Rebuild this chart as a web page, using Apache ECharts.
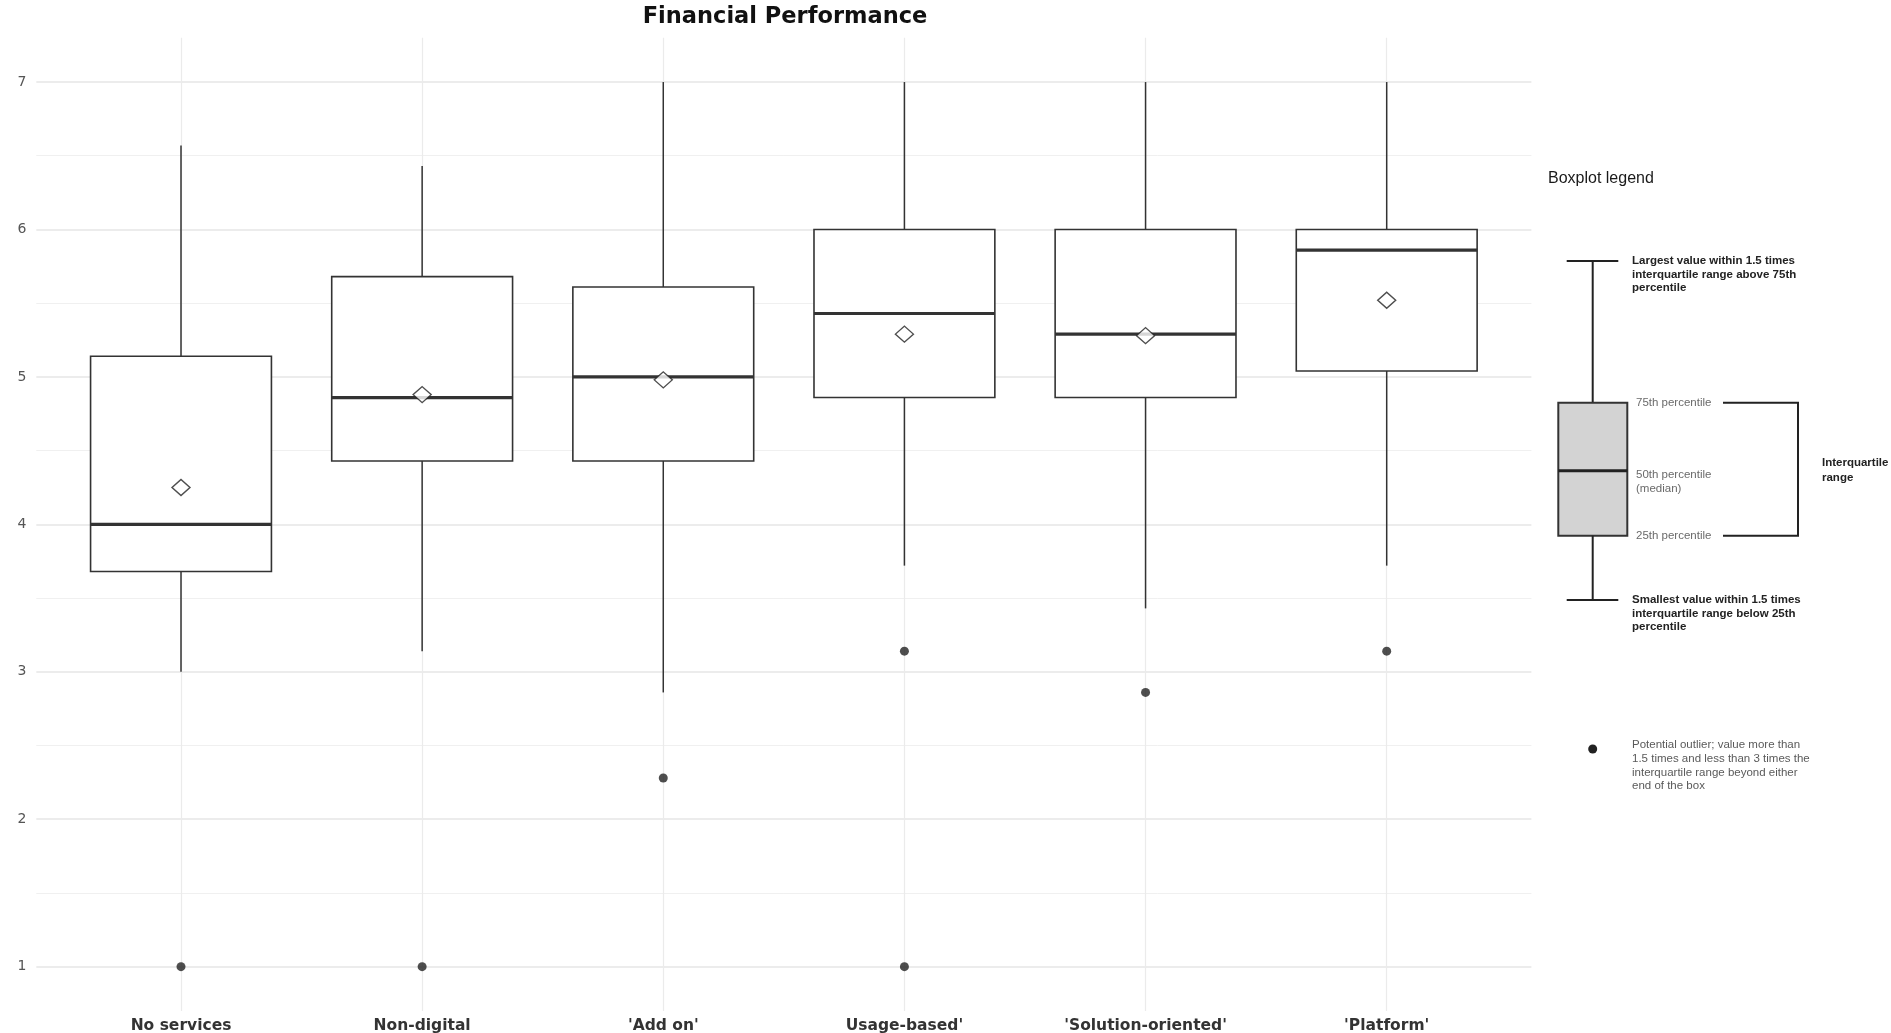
<!DOCTYPE html>
<html>
<head>
<meta charset="utf-8">
<script src="https://cdn.jsdelivr.net/npm/echarts@6/dist/echarts.min.js"></script>
<style>
  html, body { margin: 0; padding: 0; background: #ffffff; }
  #chart { width: 1891px; height: 1033px; }
</style>
</head>
<body>
<div id="chart"></div>
<script>
// ---- Data ----
const categories = ["No services", "Non-digital", "'Add on'", "Usage-based'", "'Solution-oriented'", "'Platform'"];
const lowerWhisker = [3.00, 3.14, 2.86, 3.72, 3.43, 3.72];
const q1Values     = [3.68, 4.43, 4.43, 4.86, 4.86, 5.04];
const medianValues = [4.00, 4.86, 5.00, 5.43, 5.29, 5.86];
const q3Values     = [5.14, 5.68, 5.61, 6.00, 6.00, 6.00];
const upperWhisker = [6.57, 6.43, 7.00, 7.00, 7.00, 7.00];
const meanValues   = [4.25, 4.88, 4.98, 5.29, 5.28, 5.52];
const outlierCategory = [0, 1, 2, 3, 3, 4, 5];
const outlierValues   = [1.00, 1.00, 2.28, 3.14, 1.00, 2.86, 3.14];
const yTickLabels = ["1", "2", "3", "4", "5", "6", "7"];
const titleText = "Financial Performance";

// ---- Build options ----
const boxData = categories.map((c, i) => [i, lowerWhisker[i], q1Values[i], medianValues[i], q3Values[i], upperWhisker[i]]);
const meanData = categories.map((c, i) => [i, meanValues[i]]);
const outlierData = outlierCategory.map((c, i) => [c, outlierValues[i]]);

const majorColors = [], minorColors = [];
for (let i = 0; i <= 14; i++) {
  const isEdge = (i === 0 || i === 14);
  majorColors.push(!isEdge && i % 2 === 1 ? '#e6e6e6' : 'rgba(0,0,0,0)');
  minorColors.push(!isEdge && i % 2 === 0 ? '#eeeeee' : 'rgba(0,0,0,0)');
}

const darkLine = '#333333';

function renderBox(params, api) {
  const x = api.value(0);
  const lo = api.coord([x, api.value(1)]);
  const q1 = api.coord([x, api.value(2)]);
  const md = api.coord([x, api.value(3)]);
  const q3 = api.coord([x, api.value(4)]);
  const hi = api.coord([x, api.value(5)]);
  const bw = api.size([1, 0])[0] * 0.75;
  const cx = q1[0];
  return {
    type: 'group',
    children: [
      { type: 'line', shape: { x1: cx, y1: q3[1], x2: cx, y2: hi[1] }, style: { stroke: darkLine, lineWidth: 1.5 } },
      { type: 'line', shape: { x1: cx, y1: q1[1], x2: cx, y2: lo[1] }, style: { stroke: darkLine, lineWidth: 1.5 } },
      { type: 'rect', shape: { x: cx - bw / 2, y: q3[1], width: bw, height: q1[1] - q3[1] },
        style: { fill: '#ffffff', stroke: darkLine, lineWidth: 1.6 } },
      { type: 'line', shape: { x1: cx - bw / 2, y1: md[1], x2: cx + bw / 2, y2: md[1] }, style: { stroke: darkLine, lineWidth: 3.2 } }
    ]
  };
}

function txt(x, y, text, font, fill, lh) {
  return {
    type: 'text', x: x, y: y, silent: true,
    style: { text: text, font: font, fill: fill, lineHeight: lh || undefined,
             align: 'left', textAlign: 'left', verticalAlign: 'top', textVerticalAlign: 'top' }
  };
}
function seg(x1, y1, x2, y2, w) {
  return { type: 'line', silent: true, shape: { x1: x1, y1: y1, x2: x2, y2: y2 }, style: { stroke: '#222', lineWidth: w || 2 } };
}

const boldSmall = 'bold 11.5px "Liberation Sans", Arial, sans-serif';
const normSmall = '11.5px "Liberation Sans", Arial, sans-serif';

const legendGraphics = [
  { type: 'text', x: 1548, y: 179, silent: true,
    style: { text: 'Boxplot legend', font: '16px "Liberation Sans", Arial, sans-serif', fill: '#1a1a1a',
             align: 'left', textAlign: 'left', verticalAlign: 'middle', textVerticalAlign: 'middle' } },
  seg(1566.7, 261, 1618.3, 261, 2),
  seg(1592.7, 261, 1592.7, 402.7, 2),
  { type: 'rect', silent: true, shape: { x: 1558.3, y: 402.7, width: 69, height: 133 },
    style: { fill: '#d3d3d3', stroke: '#333', lineWidth: 2 } },
  seg(1558.3, 470.7, 1627.3, 470.7, 3),
  seg(1592.7, 535.7, 1592.7, 600, 2),
  seg(1566.7, 600, 1618.3, 600, 2),
  { type: 'polyline', silent: true, shape: { points: [[1723, 402.7], [1798, 402.7], [1798, 535.7], [1723, 535.7]] },
    style: { stroke: '#222', lineWidth: 2, fill: null } },
  { type: 'circle', silent: true, shape: { cx: 1592.7, cy: 749, r: 4.5 }, style: { fill: '#222' } },
  txt(1632, 254.3, 'Largest value within 1.5 times\ninterquartile range above 75th\npercentile', boldSmall, '#222', 13.4),
  txt(1636, 396, '75th percentile', normSmall, '#6a6a6a', 13.4),
  txt(1636, 468.3, '50th percentile\n(median)', normSmall, '#6a6a6a', 13.4),
  txt(1636, 529, '25th percentile', normSmall, '#6a6a6a', 13.4),
  txt(1822, 455.7, 'Interquartile\nrange', boldSmall, '#222', 14.7),
  txt(1632, 593.5, 'Smallest value within 1.5 times\ninterquartile range below 25th\npercentile', boldSmall, '#222', 13.5),
  txt(1632, 738.5, 'Potential outlier; value more than\n1.5 times and less than 3 times the\ninterquartile range beyond either\nend of the box', normSmall, '#5a5a5a', 13.6),
  { type: 'text', x: 785, y: 17.5, silent: true,
    style: { text: titleText, font: 'bold 22.5px "DejaVu Sans", sans-serif', fill: '#111',
             align: 'center', textAlign: 'center', verticalAlign: 'middle', textVerticalAlign: 'middle' } }
];

const chart = echarts.init(document.getElementById('chart'), null, { renderer: 'canvas' });
chart.setOption({
  animation: false,
  backgroundColor: '#ffffff',
  grid: [
    { left: 36.3, width: 1495.1, top: 8.3, height: 1032.1, outerBoundsMode: 'none', containLabel: false },
    { left: 181, width: 1205.7, top: 37.8, height: 973.1, outerBoundsMode: 'none', containLabel: false }
  ],
  xAxis: [
    { type: 'value', gridIndex: 0, min: 0, max: 1, show: false },
    { type: 'category', gridIndex: 1, data: categories, boundaryGap: false,
      axisLine: { show: false }, axisTick: { show: false },
      axisLabel: { interval: 0, margin: 7, color: '#333', fontWeight: 'bold', fontSize: 15.5, fontFamily: '"DejaVu Sans", sans-serif' },
      splitLine: { show: true, interval: 0, lineStyle: { color: '#ebebeb', width: 1.2 } } }
  ],
  yAxis: [
    { type: 'value', gridIndex: 0, min: 0.5, max: 7.5, interval: 0.5,
      axisLine: { show: false }, axisTick: { show: false },
      axisLabel: { margin: 10, color: '#555', fontSize: 14, fontFamily: '"DejaVu Sans", sans-serif',
        formatter: v => (Math.abs(v - Math.round(v)) < 1e-9 && v >= 1 && v <= 7) ? yTickLabels[Math.round(v) - 1] : '' },
      splitLine: { show: true, lineStyle: { color: majorColors, width: 1.6 } } },
    { type: 'value', gridIndex: 0, min: 0.5, max: 7.5, interval: 0.5,
      axisLine: { show: false }, axisTick: { show: false }, axisLabel: { show: false },
      splitLine: { show: true, lineStyle: { color: minorColors, width: 0.9 } } },
    { type: 'value', gridIndex: 1, min: 0.7, max: 7.3, show: false, splitLine: { show: false } }
  ],
  series: [
    { type: 'custom', xAxisIndex: 1, yAxisIndex: 2, data: boxData, renderItem: renderBox,
      encode: { x: 0, y: [1, 2, 3, 4, 5] }, z: 3 },
    { type: 'scatter', xAxisIndex: 1, yAxisIndex: 2, data: meanData, symbol: 'diamond', symbolSize: [18, 16],
      itemStyle: { color: '#ffffff', borderColor: '#222', borderWidth: 1.4 }, z: 5 },
    { type: 'scatter', xAxisIndex: 1, yAxisIndex: 2, data: outlierData, symbol: 'circle', symbolSize: 9,
      itemStyle: { color: '#222' }, z: 5 }
  ],
  graphic: legendGraphics
});
</script>
</body>
</html>
